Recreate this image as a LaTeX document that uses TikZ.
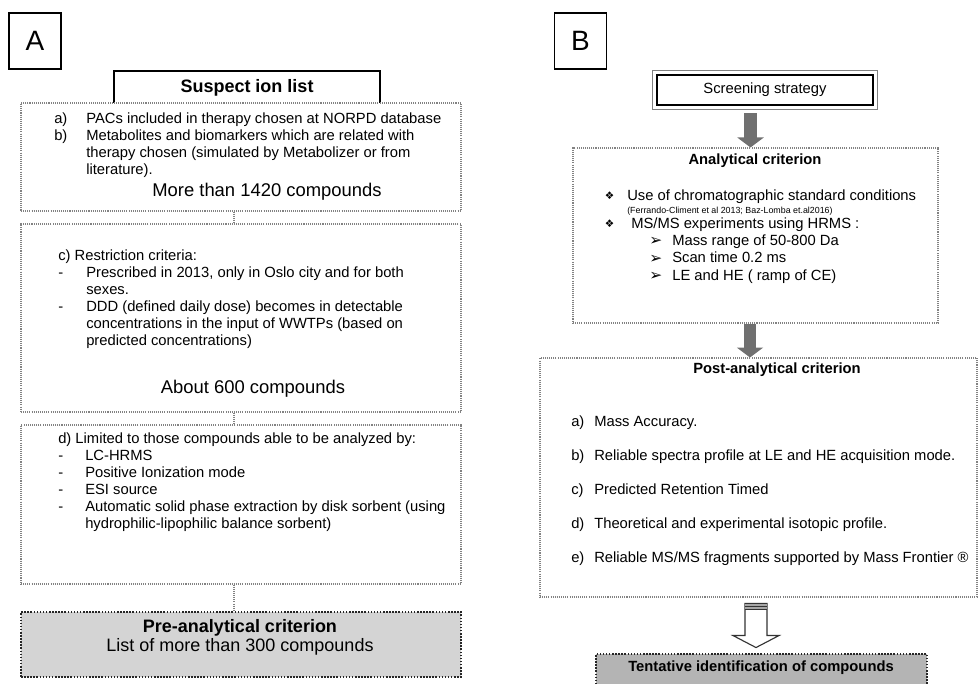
\documentclass[tikz,border=0pt]{standalone}
\usepackage{fontspec}
\setmainfont{Liberation Sans}
\newfontfamily\dingfont{DejaVu Sans}
\usetikzlibrary{arrows.meta,positioning,calc}
\definecolor{dotgray}{RGB}{130,130,130}
\definecolor{pregray}{RGB}{212,212,212}
\definecolor{tentgray}{RGB}{180,180,180}
\definecolor{arrgray}{RGB}{112,112,112}
\newcommand{\fbody}{\fontsize{10.5}{12.15}\selectfont}
\newcommand{\fbig}{\fontsize{13.1}{14}\selectfont}

\begin{document}
\begin{tikzpicture}[x=0.25mm,y=-0.25mm,
    letterbox/.style={rectangle,draw,line width=1.1pt,minimum width=13mm,minimum height=14mm,inner sep=0pt,font=\fontsize{19.9}{22}\selectfont},
    titlebox/.style={rectangle,draw,line width=0.8pt,inner sep=0pt,font=\fontsize{12.8}{14}\selectfont\bfseries},
    dotbox/.style={rectangle,draw=dotgray,line width=0.75pt,dash pattern=on 0.75pt off 0.75pt,inner sep=0pt},
    darkbox/.style={rectangle,draw=black!85,line width=1.1pt,dash pattern=on 1.1pt off 1.1pt,inner sep=0pt},
    txt/.style={inner sep=0pt,anchor=base west,font=\fbody},
    link/.style={draw=dotgray,line width=0.75pt,dash pattern=on 0.75pt off 0.75pt},
    blockarr/.style={-{Triangle[length=7.1pt,width=18.5pt]},draw=arrgray,line width=9pt},
    hollowarr/.style={draw=black!80,line width=0.8pt,fill=white},
]
\useasboundingbox (0,0) rectangle (980,683);

% panel A
\node[letterbox] (lblA) at (35,41) {A};
\node[titlebox,minimum width=66.5mm,minimum height=8.25mm] (suspect) at (247,87.5) {Suspect ion list};

\node[dotbox,fill=white,minimum width=110mm,minimum height=27mm] (pacsbox) at (241,157) {};
\node[txt] (pacs) at (54,123) {\begin{tabular}[t]{@{}p{8mm}@{}l@{}}
a) & PACs included in therapy chosen at NORPD database\\
b) & Metabolites and biomarkers which are related with\\
   & therapy chosen (simulated by Metabolizer or from\\
   & literature).\end{tabular}};
\node[inner sep=0pt,anchor=base,font=\fbig] (n1420) at (267,196) {More than 1420 compounds};

\node[dotbox,minimum width=110mm,minimum height=47mm] (restrbox) at (241,318) {};
\node[txt] (restr) at (58,260) {\begin{tabular}[t]{@{}p{7mm}@{}l@{}}
\multicolumn{2}{@{}l@{}}{c) Restriction criteria:}\\
- & Prescribed in 2013, only in Oslo city and for both\\
  & sexes.\\
- & DDD (defined daily dose) becomes in detectable\\
  & concentrations in the input of WWTPs (based on\\
  & predicted concentrations)\end{tabular}};
\node[inner sep=0pt,anchor=base,font=\fbig] (n600) at (253,393) {About 600 compounds};

\node[dotbox,minimum width=110mm,minimum height=39.75mm] (limitbox) at (241,504.5) {};
\node[txt] (limit) at (58,443) {\begin{tabular}[t]{@{}p{6.75mm}@{}l@{}}
\multicolumn{2}{@{}l@{}}{d) Limited to those compounds able to be analyzed by:}\\
- & LC-HRMS\\
- & Positive Ionization mode\\
- & ESI source\\
- & Automatic solid phase extraction by disk sorbent (using\\
  & hydrophilic-lipophilic balance sorbent)\end{tabular}};

\node[darkbox,fill=pregray,minimum width=110mm,minimum height=16.25mm] (prebox) at (241,644.5) {};
\node[inner sep=0pt,align=center,font=\fontsize{12.8}{13.9}\selectfont] (pretxt) at (240,637.5) {\textbf{Pre-analytical criterion}\\List of more than 300 compounds};

\draw[link] ($(pacsbox.south)+(-7,0)$) -- ($(restrbox.north)+(-7,0)$);
\draw[link] ($(restrbox.south)+(-7,0)$) -- ($(limitbox.north)+(-7,0)$);
\draw[link] ($(limitbox.south)+(-7,0)$) -- ($(prebox.north)+(-7,0)$);

% panel B
\node[letterbox] (lblB) at (580.5,41) {B};
\node[rectangle,draw,line width=2pt,minimum width=54mm,minimum height=7.5mm,inner sep=0pt,font=\fbody] (screen) at (765,90) {Screening strategy};
\draw[draw=gray,line width=0.6pt] ($(screen.south west)+(-3,3)$) rectangle ($(screen.north east)+(3,-3)$);

\node[dotbox,minimum width=91.25mm,minimum height=43.75mm] (analbox) at (755.5,235.5) {};
\node[inner sep=0pt,font=\fbody\bfseries] (analtitle) at (755,161) {Analytical criterion};
\node[txt,font=\dingfont\fontsize{7.5}{8}\selectfont] (bul1) at (604.5,199) {❖};
\node[txt] (usecond) at (627,200) {Use of chromatographic standard conditions};
\node[txt,font=\fontsize{6.3}{7}\selectfont] (refs) at (627,213) {(Ferrando-Climent et al 2013; Baz-Lomba et.al2016)};
\node[txt,font=\dingfont\fontsize{7.5}{8}\selectfont] (bul2) at (604.5,227) {❖};
\node[txt] (msms) at (631,228) {MS/MS experiments using HRMS :};
\foreach \t [count=\i] in {Mass range of 50-800 Da,Scan time 0.2 ms,LE and HE ( ramp of CE)}{
  \node[txt,font=\dingfont\fontsize{11}{12}\selectfont] (tip\i) at (649,228+17.5*\i) {➢};
  \node[txt] (ms\i) at (672,227.5+17.5*\i) {\t};
}

\node[dotbox,minimum width=109.25mm,minimum height=59.75mm] (postbox) at (758.5,477.5) {};
\node[inner sep=0pt,font=\fbody\bfseries] (posttitle) at (777,370) {Post-analytical criterion};
\foreach \l/\t [count=\i] in {a/Mass Accuracy.,b/Reliable spectra profile at LE and HE acquisition mode.,c/Predicted Retention Timed,d/Theoretical and experimental isotopic profile.,e/{Reliable MS/MS fragments supported by Mass Frontier ®}}{
  \node[txt] (lbl\l) at (571,392+34*\i) {\l)};
  \node[txt] (item\l) at (594,392+34*\i) {\t};
}

\node[darkbox,fill=tentgray,minimum width=82.75mm,minimum height=9mm] (tentbox) at (761.5,672) {};
\node[inner sep=0pt,font=\fbody\bfseries] (tent) at (761,668) {Tentative identification of compounds};

% arrows
\draw[blockarr] ($(screen.south -| analbox.north)+(-5,7)$) -- ($(analbox.north)+(-5,0)$);
\draw[blockarr] ($(analbox.south)+(-5.5,0)$) -- ($(postbox.north)+(-8.5,0)$);
\coordinate (h3) at ($(postbox.south)+(-2.5,6)$);
\draw[hollowarr] ($(h3)+(-11,0)$) -- ++(0,32) -- ++(-12,0) -- ($(h3)+(0,44)$) -- ($(h3)+(23,32)$) -- ++(-12,0) -- ++(0,-32) -- cycle;
\fill[gray!70] ($(h3)+(-11,0)$) rectangle ($(h3)+(11,6)$);
\foreach \s in {0,3,6}
  \draw[black!80,line width=0.6pt] ($(h3)+(-11,\s)$) -- ($(h3)+(11,\s)$);
\end{tikzpicture}
\end{document}
